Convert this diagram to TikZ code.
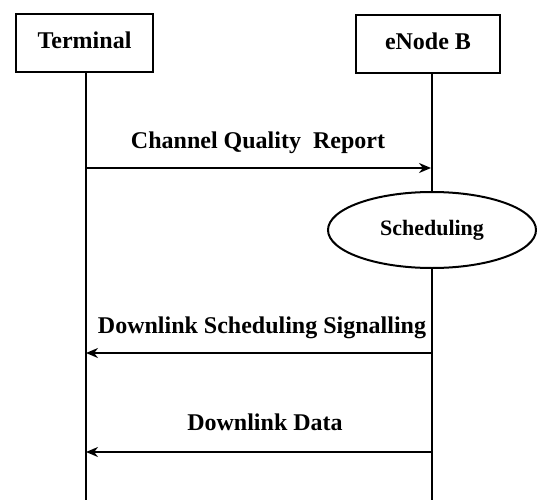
\documentclass[tikz,border=0pt]{standalone}
\usepackage{fontspec}
\setmainfont{Liberation Serif}
\usetikzlibrary{shapes.geometric,arrows.meta}
\begin{document}
\begin{tikzpicture}[x=1pt,y=-1pt,
  actor/.style={draw,line width=2.6pt,minimum width=137pt,minimum height=58pt,inner sep=0pt,font=\fontsize{24}{26}\selectfont\bfseries},
  proc/.style={draw,ellipse,line width=2pt,minimum width=208pt,minimum height=76pt,inner sep=0pt,font=\fontsize{22}{24}\selectfont\bfseries},
  life/.style={line width=2pt},
  msg/.style={line width=2pt,-{Stealth[length=12pt,width=10pt]}},
  lbl/.style={font=\fontsize{24}{26}\selectfont\bfseries,inner sep=0pt}]
\useasboundingbox (0,0) rectangle (537,500);
\node[actor] (term) at (84.5,43) {\raisebox{5pt}{Terminal}};
\node[actor,minimum width=144pt] (enb) at (428,44) {\raisebox{5pt}{eNode B}};
\node[proc] (sched) at (432,230) {Scheduling};
\coordinate (tend) at (86,500);
\coordinate (eend) at (432,500);
\draw[life] (term.south -| tend) -- (tend);
\draw[life] (enb.south -| sched.north) -- (sched.north);
\draw[life] (sched.south) -- (eend);
\coordinate (t1) at (86,168);
\coordinate (e1) at (431,168);
\coordinate (t2) at (86,353);
\coordinate (e2) at (432,353);
\coordinate (t3) at (86,452);
\coordinate (e3) at (432,452);
\draw[msg] (t1) -- (e1);
\draw[msg] (e2) -- (t2);
\draw[msg] (e3) -- (t3);
\node[lbl] (l1) at (258,143) {Channel Quality\ \ Report};
\node[lbl] (l2) at (262,328) {Downlink Scheduling Signalling};
\node[lbl] (l3) at (265,422) {Downlink Data};
\end{tikzpicture}
\end{document}
